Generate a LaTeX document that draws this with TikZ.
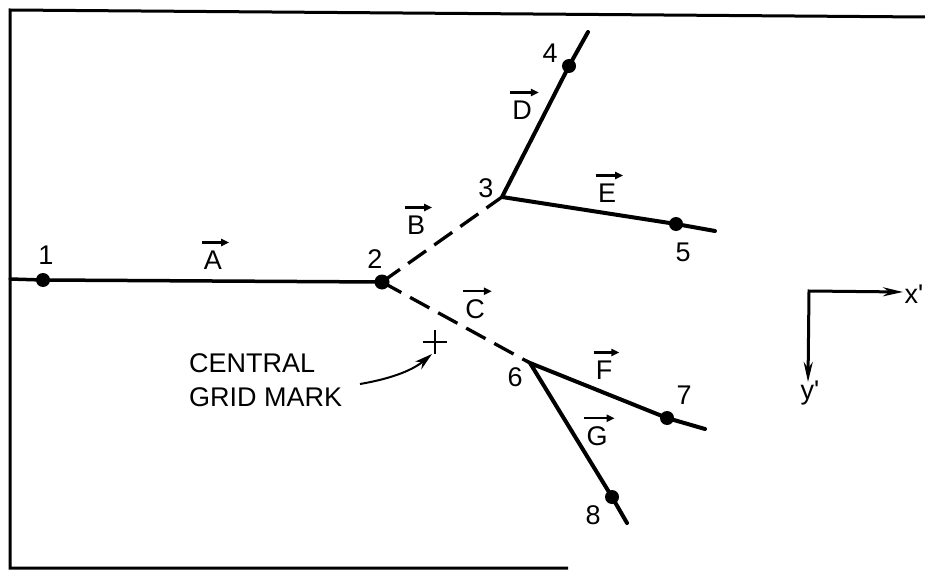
\documentclass[tikz,border=0pt]{standalone}
\usepackage{fontspec}
\setmainfont{Liberation Sans}
\newfontfamily\axfont{Liberation Sans}
\usetikzlibrary{arrows.meta}
\newcommand\veclab[3]{%
  \node[lab] (#1) at #2 {#3};
  \draw[vecarr] ([xshift=-2pt,yshift=8pt]#1.north west) -- ([xshift=7pt,yshift=8pt]#1.north east);}
\begin{document}
\begin{tikzpicture}[x=1pt,y=-1pt,
  seg/.style={line width=4pt, line cap=round},
  thin seg/.style={line width=3.5pt, line cap=round},
  dseg/.style={line width=3.3pt, dash pattern=on 22pt off 10pt},
  frame/.style={line width=3pt, line join=miter},
  pt/.style={circle, fill=black, inner sep=0pt, minimum size=14pt},
  lab/.style={font=\fontsize{27}{34}\selectfont, inner sep=0pt},
  vecarr/.style={line width=2.4pt, -{Triangle[length=8pt,width=7pt]}},
  axis/.style={line width=3pt, line join=miter},
]
\useasboundingbox (0,0) rectangle (925,572);
% frame
\coordinate (ftl) at (10,10);
\coordinate (ftr) at (925,17);
\coordinate (fbl) at (10,568);
\coordinate (fbr) at (568,568);
\draw[frame] (ftr) -- (ftl) -- (fbl) -- (fbr);

% points
\coordinate (aL) at (10,279);
\node[pt] (p1) at (43,280) {};
\node[pt, minimum size=15pt] (p2) at (382,282) {};
\coordinate (p3) at (502,197);
\node[pt] (p4) at (569,66) {};
\coordinate (dEnd) at (588,32);
\node[pt] (p5) at (676,224) {};
\coordinate (eEnd) at (715,231);
\coordinate (p6) at (530,363);
\node[pt] (p7) at (667,418) {};
\coordinate (fEnd) at (705,429);
\node[pt] (p8) at (612,497) {};
\coordinate (gEnd) at (627,523);

% segments
\draw[thin seg] (aL) -- (p1.center) -- (p2.center);
\draw[dseg] (p2.center) -- (p3);
\draw[dseg] (p2.center) -- (p6);
\draw[seg, line join=miter] (dEnd) -- (p4.center) -- (p3) -- (p5.center) -- (eEnd);
\draw[seg, line join=miter] (fEnd) -- (p7.center) -- (p6) -- (p8.center) -- (gEnd);

% number labels
\node[lab] (l1) at (46,255) {1};
\node[lab] (l2) at (375,259) {2};
\node[lab] (l3) at (486,188) {3};
\node[lab] (l4) at (550,53) {4};
\node[lab] (l5) at (683,252) {5};
\node[lab] (l6) at (515,377) {6};
\node[lab] (l7) at (684,395) {7};
\node[lab] (l8) at (593,515) {8};

% vector labels
\veclab{vA}{(213,260)}{A}
\veclab{vB}{(416,225)}{B}
\veclab{vC}{(475,309)}{C}
\veclab{vD}{(522,110)}{D}
\veclab{vE}{(607,193)}{E}
\veclab{vF}{(604,370)}{F}
\veclab{vG}{(597,436)}{G}

% central grid mark
\coordinate (gm) at (435,342);
\draw[line width=2.8pt] ([xshift=-12pt]gm) -- ([xshift=12pt]gm);
\draw[line width=2.8pt] ([yshift=12pt]gm) -- ([yshift=-12pt]gm);
\node[lab, align=left, anchor=west] (cgm) at (189,380) {CENTRAL\\GRID MARK};
\coordinate (ctail) at (360,384);
\coordinate (ctip) at (432,354);
\draw[line width=2pt, -{Stealth[length=18pt,width=10pt]}] (ctail) .. controls (395,378) and (414,369) .. (ctip);

% axes
\coordinate (o) at (809,291);
\coordinate (xe) at (903,292);
\coordinate (ye) at (808,382);
\draw[axis, {Stealth[length=20pt,width=9pt]}-{Stealth[length=20pt,width=9pt]}] (xe) -- (o) -- (ye);
\node[lab, font=\axfont\fontsize{27}{34}\selectfont] (xl) at (914,294) {x'};
\node[lab, font=\axfont\fontsize{27}{34}\selectfont] (yl) at (810,393) {y'};
\end{tikzpicture}
\end{document}
